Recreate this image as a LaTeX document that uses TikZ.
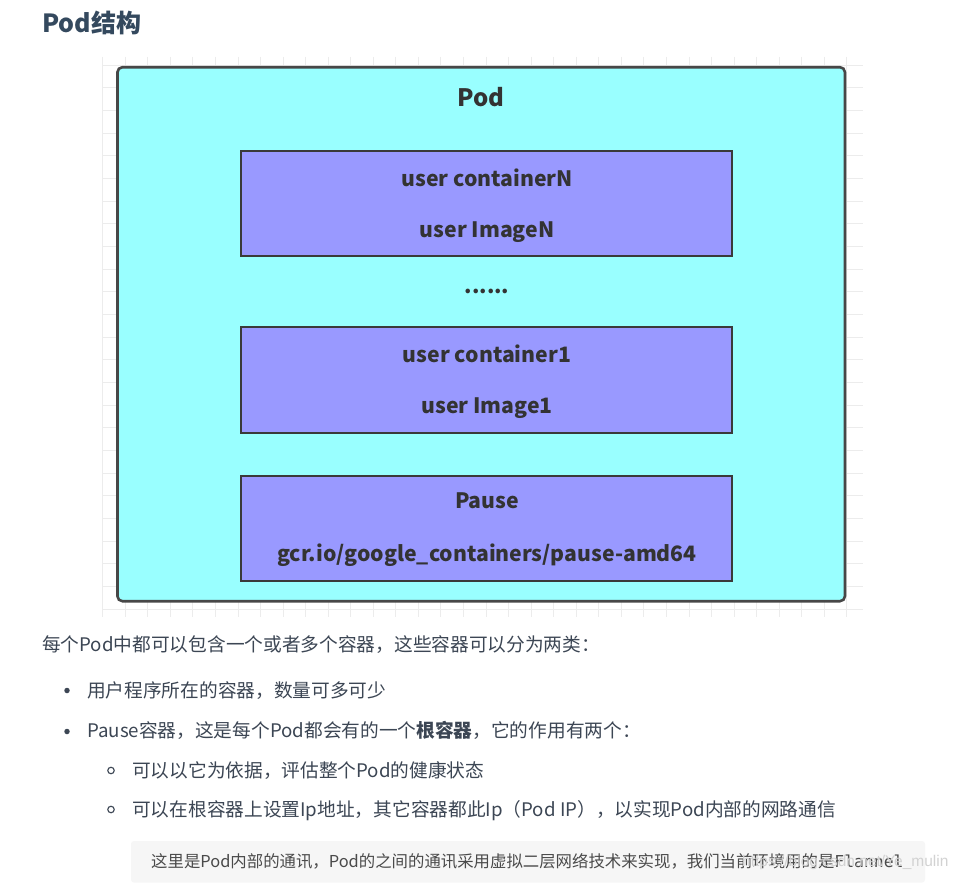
\documentclass[tikz,border=0pt]{standalone}
\usepackage{fontspec}
\setmainfont{Noto Sans CJK SC}
\setmonofont{DejaVu Sans Mono}
\newfontfamily\wmfont{Liberation Sans}
\definecolor{podfill}{HTML}{99FFFF}
\definecolor{ctrfill}{HTML}{9999FF}
\definecolor{podline}{HTML}{474747}
\definecolor{ctrline}{HTML}{3A3A3A}
\definecolor{labeltext}{HTML}{333333}
\definecolor{titletext}{HTML}{34495E}
\definecolor{bodytext}{HTML}{3C4654}
\definecolor{codetext}{HTML}{4A4A4A}
\definecolor{codebg}{HTML}{F6F6F6}
\definecolor{gridline}{HTML}{ECECEC}
\definecolor{wmtext}{HTML}{D2D2D2}
\tikzset{
  podbox/.style={draw=podline, line width=2.6pt, fill=podfill, rounded corners=5pt, inner sep=0pt},
  ctrbox/.style={draw=ctrline, line width=2pt, fill=ctrfill, inner sep=0pt, minimum width=491pt, minimum height=105.5pt},
  boxlabel/.style={inner sep=0pt, anchor=base, text=labeltext, font=\fontsize{21.2}{25}\selectfont\bfseries},
  bodyline/.style={inner sep=0pt, anchor=base west, text=bodytext, font=\fontsize{18.7}{22}\selectfont},
  dotbullet/.style={circle, fill=bodytext, inner sep=0pt, minimum size=5.5pt},
  ringbullet/.style={circle, draw=bodytext, line width=1.1pt, inner sep=0pt, minimum size=6.5pt},
}
\begin{document}
\begin{tikzpicture}[x=1pt,y=-1pt]
\useasboundingbox (0,0) rectangle (962,889);
\fill[white] (0,0) rectangle (962,889);
% grid background
\begin{scope}[gridline, line width=1pt]
  \foreach \i in {0,...,33} { \draw (102.7+\i*22.55,56.7) -- (102.7+\i*22.55,616.7); }
  \foreach \j in {0,...,24} { \draw (102.7,65+\j*22.67) -- (863,65+\j*22.67); }
\end{scope}
% title
\node[inner sep=0pt, anchor=base west, text=titletext, font=\fontsize{25}{30}\selectfont\bfseries] (title) at (42,32.7) {Pod结构};
% pod box
\node[podbox, minimum width=727.5pt, minimum height=534pt] (pod) at (481.2,334.2) {};
\node[inner sep=0pt, anchor=base, text=labeltext, font=\fontsize{24}{28}\selectfont\bfseries] (podlabel) at (481,106.5) {Pod};
% containers
\node[ctrbox] (ctrN) at (486.5,203.7) {};
\node[boxlabel] (ctrNa) at (487,186) {user containerN};
\node[boxlabel] (ctrNb) at (487,237.5) {user ImageN};
\node[boxlabel] (dots) at (487,293) {......};
\node[ctrbox] (ctr1) at (486.5,380.2) {};
\node[boxlabel] (ctr1a) at (487,362) {user container1};
\node[boxlabel] (ctr1b) at (487,413.5) {user Image1};
\node[ctrbox] (pause) at (486.5,528.3) {};
\node[boxlabel] (pausea) at (487,508.3) {Pause};
\node[boxlabel] (pauseb) at (487,561.7) {gcr.io/google\_containers/pause-amd64};
% body text
\node[bodyline] (l1) at (42,651) {每个Pod中都可以包含一个或者多个容器，这些容器可以分为两类：};
\node[dotbullet] (b1) at (67,690.5) {};
\node[bodyline] (l2) at (87,697.5) {用户程序所在的容器，数量可多可少};
\node[dotbullet] (b2) at (67,731.5) {};
\node[bodyline] (l3) at (87,737.5) {Pause容器，这是每个Pod都会有的一个\textbf{根容器}，它的作用有两个：};
\node[ringbullet] (b3) at (111,770.5) {};
\node[bodyline] (l4) at (132,777) {可以以它为依据，评估整个Pod的健康状态};
\node[ringbullet] (b4) at (111,809.5) {};
\node[bodyline] (l5) at (132,816) {可以在根容器上设置Ip地址，其它容器都此Ip（Pod IP），以实现Pod内部的网路通信};
% code block
\node[fill=codebg, rounded corners=3pt, inner sep=0pt, minimum width=794pt, minimum height=41.5pt] (code) at (528,861.8) {};
\node[inner sep=0pt, anchor=base west, text=codetext, font=\fontsize{16.4}{19}\selectfont] (codetxt) at (151,867.5) {这里是Pod内部的通讯，Pod的之间的通讯采用虚拟二层网络技术来实现，我们当前环境用的是{\ttfamily\fontsize{16.4}{19}\selectfont Flannel}};
% watermark
\node[inner sep=0pt, anchor=base west, text=wmtext, font=\wmfont\fontsize{15.5}{19}\selectfont] (wm) at (742,866.7) {https://blog.csdn.net/Ye\_mulin};
\end{tikzpicture}
\end{document}
